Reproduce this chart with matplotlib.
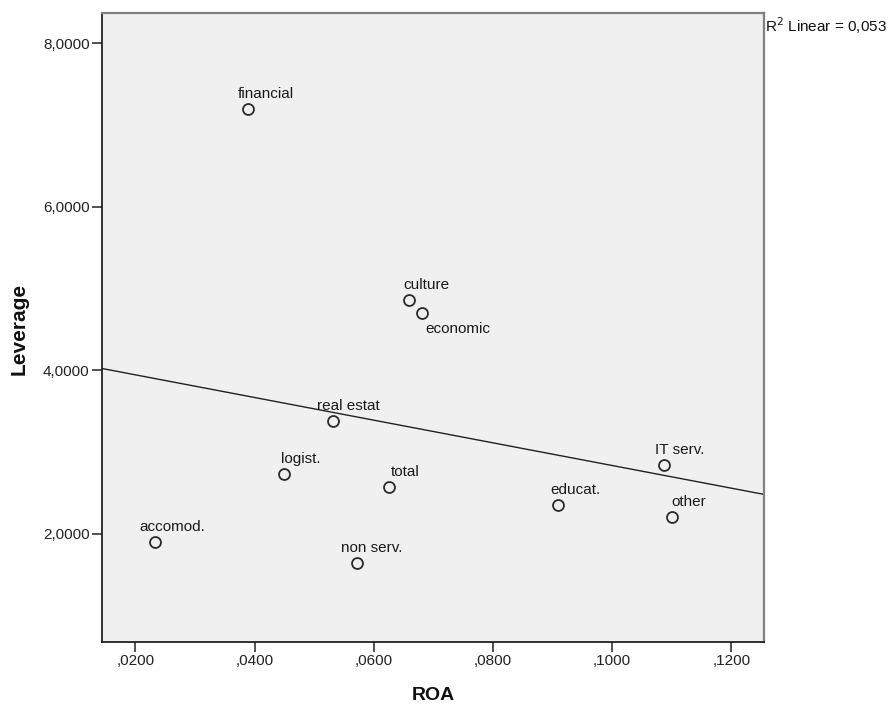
import numpy as np
import matplotlib
matplotlib.use("Agg")
import matplotlib.pyplot as plt

# ---- data ----
labels = ["financial", "culture", "economic", "real estat", "logist.", "total",
          "accomod.", "non serv.", "IT serv.", "educat.", "other"]
roa = [0.03896, 0.06597, 0.06815, 0.05310, 0.04495, 0.06252,
       0.02336, 0.05725, 0.10870, 0.09097, 0.11010]
leverage = [7.200, 4.852, 4.701, 3.379, 2.731, 2.568,
            1.898, 1.641, 2.841, 2.355, 2.208]
x_ticks = [0.02, 0.04, 0.06, 0.08, 0.10, 0.12]
y_ticks = [2.0, 4.0, 6.0, 8.0]
r2_text = "R$^2$ Linear = 0,053"

# ---- layout (label offsets in pixels: left edge dx, baseline dy) ----
label_offsets = [(-11, 11), (-6, 11), (3, -20), (-16, 11), (-3, 11), (2, 11),
                 (-16, 11), (-16, 11), (-9, 11), (-8, 11), (-1, 11)]

plt.rcParams['font.family'] = ['Liberation Sans', 'DejaVu Sans']
fig = plt.figure(figsize=(8.88, 7.04), dpi=100)
ax = fig.add_axes([102/888, 1-641.7/704, (764-102)/888, (641.7-13.3)/704])
ax.set_facecolor('#f0f0f0')

xlim = (0.01441, 0.12549)
ylim = (0.676, 8.367)
ax.set_xlim(*xlim)
ax.set_ylim(*ylim)

# regression line
slope, intercept = np.polyfit(roa, leverage, 1)
xs = np.array(xlim)
ax.plot(xs, slope * xs + intercept, color='#222222', lw=1.0, zorder=2)

ax.scatter(roa, leverage, s=62, facecolors='#f0f0f0', edgecolors='#2a2a2a',
           linewidths=1.3, zorder=3)

for lab, x, y, (dx, dy) in zip(labels, roa, leverage, label_offsets):
    ax.annotate(lab, (x, y), xytext=(dx, dy), textcoords='offset pixels',
                ha='left', va='baseline', fontsize=11, color='#1a1a1a', zorder=4)

ax.set_xticks(x_ticks)
ax.set_xticklabels([f"{v:.4f}".replace("0.", ",", 1) for v in x_ticks])
ax.set_yticks(y_ticks)
ax.set_yticklabels([f"{v:.4f}".replace(".", ",") for v in y_ticks])
ax.tick_params(direction='out', length=7, width=1.1, labelsize=11,
               colors='#222222', pad=2)

for side in ['left', 'bottom']:
    ax.spines[side].set_color('#111111')
    ax.spines[side].set_linewidth(1.2)
for side in ['top', 'right']:
    ax.spines[side].set_color('#808080')
    ax.spines[side].set_linewidth(1.6)

fig.text(433/888, 1-695/704, "ROA", fontsize=14, fontweight='bold',
         ha='center', va='center', color='#111111')
fig.text(19/888, 1-328.5/704, "Leverage", fontsize=15, fontweight='bold',
         ha='center', va='center', rotation=90, color='#111111')

fig.text(765/888, 1-26/704, r2_text, fontsize=11, ha='left', va='center',
         color='#111111')

fig.savefig("out.png", dpi=100, facecolor='white')
